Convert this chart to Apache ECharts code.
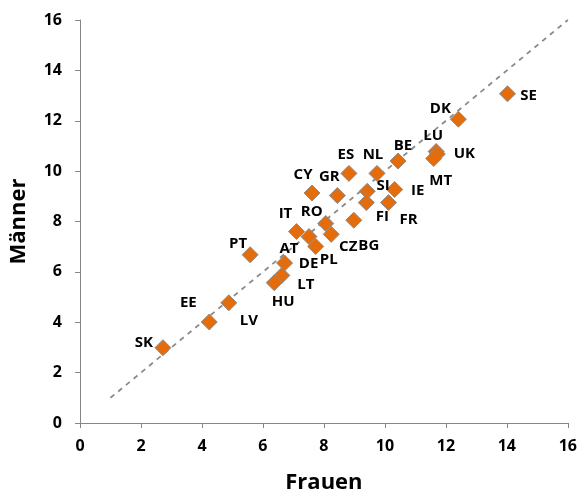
<!DOCTYPE html>
<html>
<head>
<meta charset="utf-8">
<script src="https://cdn.jsdelivr.net/npm/echarts@6/dist/echarts.min.js"></script>
<style>
html,body{margin:0;padding:0;background:#fff;}
#chart{width:580px;height:499px;}
</style>
</head>
<body>
<div id="chart"></div>
<script>
// ---- data ----
var countries = ['SE','DK','LU','UK','MT','BE','ES','NL','CY','GR','SI','IE','FI','FR','BG','RO','IT','AT','CZ','PL','DE','LT','HU','PT','EE','LV','SK'];
var frauen  = [14.02,12.41,11.68,11.72,11.60,10.43,8.82,9.74,7.61,8.44,9.42,10.32,9.39,10.12,8.98,8.06,7.10,7.51,8.24,7.73,6.71,6.62,6.37,5.58,4.24,4.88,2.72];
var maenner = [13.07,12.06,10.78,10.68,10.50,10.40,9.91,9.91,9.13,9.03,9.20,9.27,8.75,8.75,8.05,7.92,7.60,7.40,7.49,7.01,6.35,5.86,5.57,6.68,4.01,4.77,2.99];
var diagonal = [1, 16];
var xTicks = [0,2,4,6,8,10,12,14,16];
var yTicks = [0,2,4,6,8,10,12,14,16];

// ---- label placement (style only) ----
var labelOffset = {
  SE:[21,2], DK:[-18,-11], LU:[-3,-16], UK:[27,0], MT:[7,22], BE:[5,-15],
  ES:[-3,-19], NL:[-4,-19], CY:[-9,-18], GR:[-8,-19], SI:[16,-6], IE:[23,1],
  FI:[16,14], FR:[20,17], BG:[15,25], RO:[-14,-12], IT:[-11,-18], AT:[-20,12],
  CZ:[17,12], PL:[13,13], DE:[24,1], LT:[24,9], HU:[9,19], PT:[-12,-11],
  EE:[-21,-19], LV:[20,18], SK:[-19,-5]
};

var FONT = '"Open Sans", sans-serif';
var scatterData = countries.map(function(c, i){
  return { name: c, value: [frauen[i], maenner[i]] };
});

var chart = echarts.init(document.getElementById('chart'));
var axisCommon = {
  type: 'value', min: xTicks[0], max: xTicks[xTicks.length-1], interval: 2,
  splitLine: { show: false },
  axisLine: { show: true, onZero: false, lineStyle: { color: '#868686', width: 1 } },
  axisTick: { show: true, inside: false, length: 5, lineStyle: { color: '#868686' } },
  nameLocation: 'middle',
  nameTextStyle: { fontFamily: FONT, fontWeight: 'bold', fontSize: 22, color: '#000' }
};
chart.setOption({
  animation: false,
  backgroundColor: '#fff',
  grid: { left: 78, right: 11, top: 20, bottom: 70, containLabel: false },
  xAxis: Object.assign({}, axisCommon, {
    name: 'Frauen', nameGap: 49,
    axisLabel: { fontFamily: FONT, fontWeight: 'bold', fontSize: 16, color: '#000', margin: 15 }
  }),
  yAxis: Object.assign({}, axisCommon, {
    min: yTicks[0], max: yTicks[yTicks.length-1],
    name: 'Männer', nameGap: 50, nameRotate: 90,
    axisLabel: { fontFamily: FONT, fontWeight: 'bold', fontSize: 16, color: '#000', margin: 18 }
  }),
  series: [
    {
      type: 'line',
      data: [[diagonal[0], diagonal[0]], [diagonal[1], diagonal[1]]],
      symbol: 'none',
      silent: true,
      lineStyle: { color: '#8a8a8a', width: 1.8, type: [5, 5] },
      z: 1
    },
    {
      type: 'scatter',
      symbol: 'diamond',
      symbolSize: 16,
      data: scatterData,
      itemStyle: { color: '#E46C0A', borderColor: '#8C8C8C', borderWidth: 1, opacity: 1 },
      label: {
        show: true, position: 'inside',
        formatter: function(p){ return p.name; },
        fontFamily: FONT, fontWeight: 'bold', fontSize: 15, color: '#000'
      },
      labelLayout: function(params){
        var o = labelOffset[countries[params.dataIndex]] || [0,0];
        return { dx: o[0], dy: o[1], hideOverlap: false };
      },
      z: 2
    }
  ]
});
</script>
</body>
</html>
